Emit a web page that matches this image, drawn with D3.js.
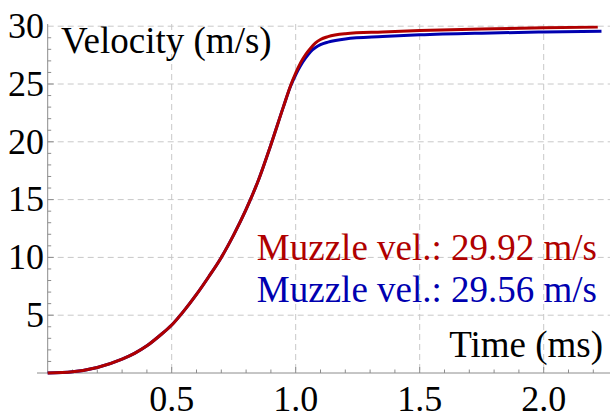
<!DOCTYPE html>
<html>
<head>
<meta charset="utf-8">
<script src="https://cdn.jsdelivr.net/npm/d3@7"></script>
<style>
  html, body { margin: 0; padding: 0; background: #fff; }
  #wrap { position: relative; width: 610px; height: 414px; overflow: hidden; }
  #wrap svg { position: absolute; left: 0; top: 0; display: block; }
  .lbl { position: absolute; white-space: nowrap; line-height: 1; font-family: "Liberation Serif", "Times New Roman", serif; }
</style>
</head>
<body>
<div id="wrap"><svg id="s" width="610" height="414"></svg></div>
<script>
// data (time in ms, velocity in m/s)
const timeRed = [0, 0.1, 0.2, 0.3, 0.35, 0.4, 0.45, 0.5, 0.55, 0.6, 0.65, 0.7, 0.75, 0.8, 0.85, 0.9, 0.95, 0.98, 1.0, 1.02, 1.04, 1.06, 1.08, 1.1, 1.13, 1.2, 1.35, 1.5, 1.75, 2.0, 2.218];
const velRed  = [0, 0.11, 0.48, 1.2, 1.7, 2.35, 3.2, 4.15, 5.4, 6.8, 8.35, 10.0, 11.95, 14.15, 16.7, 19.75, 23.0, 24.9, 25.95, 26.85, 27.55, 28.1, 28.55, 28.85, 29.1, 29.35, 29.5, 29.62, 29.75, 29.87, 29.92];

const timeBlue = [0, 0.1, 0.2, 0.3, 0.35, 0.4, 0.45, 0.5, 0.55, 0.6, 0.65, 0.7, 0.75, 0.8, 0.85, 0.9, 0.95, 0.98, 1.0, 1.02, 1.04, 1.06, 1.08, 1.1, 1.13, 1.2, 1.35, 1.5, 1.75, 2.0, 2.233];
const velBlue  = [0, 0.11, 0.48, 1.2, 1.7, 2.35, 3.2, 4.15, 5.4, 6.8, 8.35, 10.0, 11.95, 14.15, 16.7, 19.75, 23.0, 24.85, 25.8, 26.6, 27.25, 27.8, 28.15, 28.4, 28.62, 28.9, 29.1, 29.25, 29.4, 29.5, 29.56];

const xTicks = [0.5, 1.0, 1.5, 2.0];
const yTicks = [5, 10, 15, 20, 25, 30];
const xMinor = d3.range(1, 23).map(i => i / 10);
const yMinor = d3.range(1, 30);

const labelRed = "Muzzle vel.: 29.92 m/s";
const labelBlue = "Muzzle vel.: 29.56 m/s";

const red = "#b00000", blue = "#0000b0";

const svg = d3.select("#s");

const x = d3.scaleLinear().domain([0, 2]).range([47.7, 543.7]);
const y = d3.scaleLinear().domain([0, 30]).range([373, 26.2]);
const xLeft = 37, xRight = 610, yTop = 24;

// grid
const grid = svg.append("g")
  .attr("stroke", "#c8c8c8")
  .attr("stroke-width", 1)
  .attr("stroke-dasharray", "6,4");
grid.selectAll(".gx").data(xTicks).join("line")
  .attr("x1", d => x(d)).attr("x2", d => x(d))
  .attr("y1", yTop).attr("y2", y(0));
grid.selectAll(".gy").data(yTicks).join("line")
  .attr("x1", x(0)).attr("x2", xRight)
  .attr("y1", d => y(d)).attr("y2", d => y(d));

// axes
const ax = svg.append("g").attr("stroke", "#8c8c8c").attr("stroke-width", 1);
ax.append("line").attr("x1", xLeft).attr("x2", xRight).attr("y1", y(0)).attr("y2", y(0));
ax.append("line").attr("x1", x(0)).attr("x2", x(0)).attr("y1", y(0)).attr("y2", yTop);
ax.selectAll(".tx").data(xMinor).join("line")
  .attr("x1", d => x(d)).attr("x2", d => x(d))
  .attr("y1", y(0)).attr("y2", (d, i) => y(0) - ((i + 1) % 5 === 0 ? 6 : 3.5));
ax.selectAll(".ty").data(yMinor).join("line")
  .attr("y1", d => y(d)).attr("y2", d => y(d))
  .attr("x1", x(0)).attr("x2", d => x(0) + (d % 5 === 0 ? 6 : 3.5));

// curves
const line = d3.line().curve(d3.curveMonotoneX).x(d => x(d[0])).y(d => y(d[1]));
svg.append("path")
  .datum(d3.zip(timeBlue, velBlue))
  .attr("fill", "none").attr("stroke", blue).attr("stroke-width", 3)
  .attr("d", line);
svg.append("path")
  .datum(d3.zip(timeRed, velRed))
  .attr("fill", "none").attr("stroke", red).attr("stroke-width", 3)
  .attr("d", line);

// texts as html on top: [content, x, baseline y, size, anchor, colour]
// baseline sits about 0.8375 em below the top of a line-height:1 box in Liberation Serif
const shift = { start: "0", middle: "-50%", end: "-100%" };
const texts = [
  ...xTicks.map(d => [d.toFixed(1), x(d), 411, 36, "middle", "#000"]),
  ...yTicks.map(d => [String(d), 44, y(d) + 12, 36, "end", "#000"]),
  ["Velocity (m/s)", 61, 53, 37, "start", "#000"],
  ["Time (ms)", 603, 357, 37, "end", "#000"],
  [labelRed, 597, 260, 37, "end", red],
  [labelBlue, 597, 302, 37, "end", blue]
];
d3.select("#wrap").selectAll("div.lbl").data(texts).join("div")
  .attr("class", "lbl")
  .style("font-size", d => d[3] + "px")
  .style("left", d => d[1] + "px")
  .style("top", d => (d[2] - 0.8375 * d[3]) + "px")
  .style("transform", d => "translateX(" + shift[d[4]] + ")")
  .style("color", d => d[5])
  .text(d => d[0]);
</script>
</body>
</html>
